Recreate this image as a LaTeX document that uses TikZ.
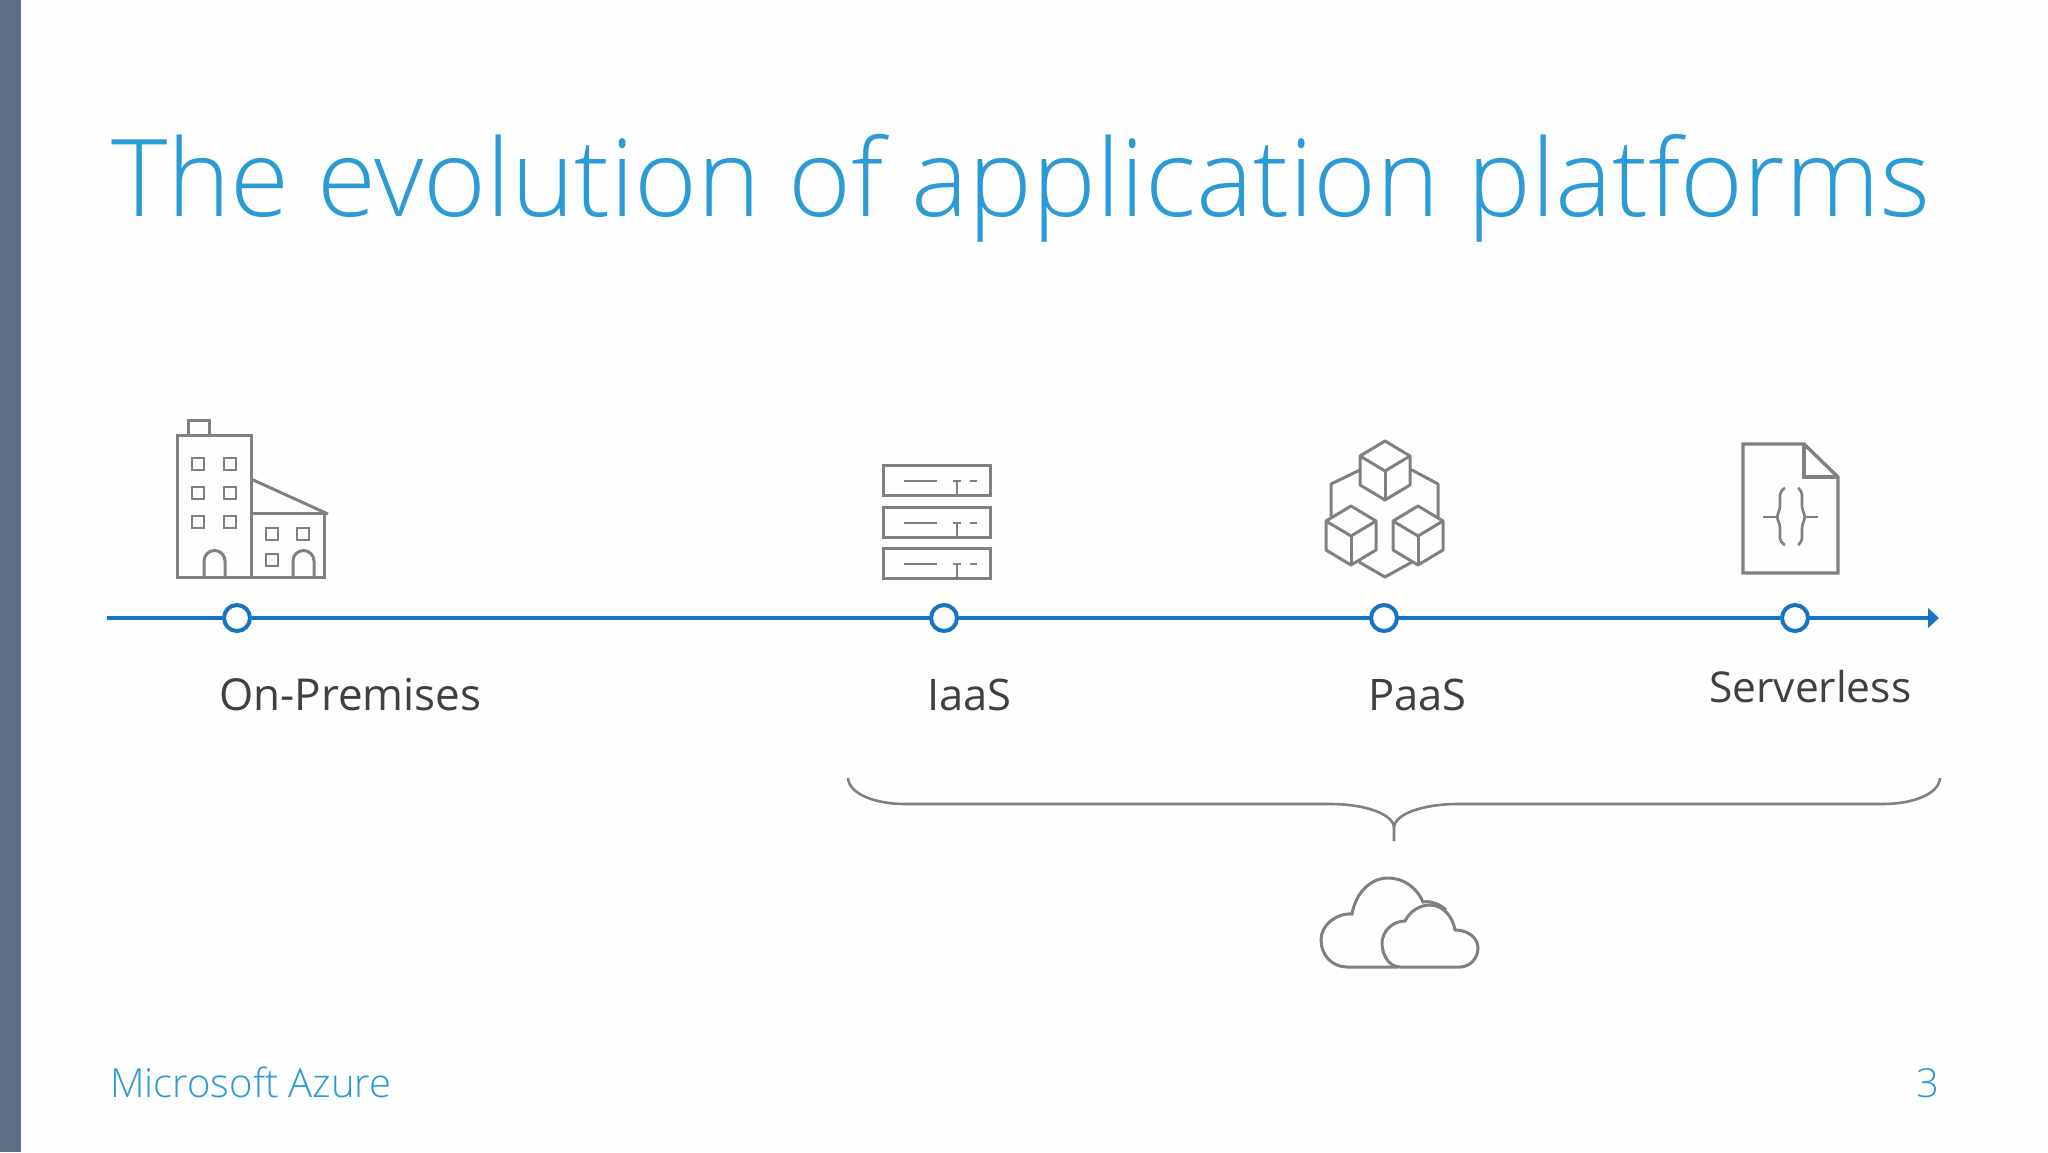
\documentclass[tikz,border=0pt]{standalone}
\usepackage{fontspec}
\setmainfont{Open Sans}
\newfontfamily\lightf{Open Sans Light}
\definecolor{titleblue}{HTML}{2A9BD5}
\definecolor{lineblue}{HTML}{1774C4}
\definecolor{icong}{HTML}{808080}
\definecolor{labelg}{HTML}{404040}
\definecolor{barc}{HTML}{5F6E85}
\tikzset{
  icon/.style={draw=icong,line width=3pt,line join=miter},
  thinicon/.style={draw=icong,line width=2.6pt},
  axis/.style={draw=lineblue,line width=4pt},
  stopdot/.style={circle,draw=lineblue,line width=4pt,fill=white,minimum size=26pt,inner sep=0pt},
  lab/.style={anchor=base west,inner sep=0pt,text=labelg,font=\fontsize{44}{50}\selectfont},
  titlet/.style={anchor=base west,inner sep=0pt,text=titleblue,font=\lightf\fontsize{107.4}{120}\selectfont},
  foot/.style={anchor=base west,inner sep=0pt,text=titleblue,font=\lightf\fontsize{40}{46}\selectfont},
}
\begin{document}
\begin{tikzpicture}[x=1pt,y=-1pt]
\useasboundingbox (0,0) rectangle (2048,1152);
\fill[white!99.5!black] (0,0) rectangle (2048,1152);
\fill[barc] (0,0) rectangle (21,1152);
\node[titlet] (title) at (111,216) {The evolution of application platforms};
\node[foot] (footer) at (110,1097) {Microsoft Azure};
\node[foot,anchor=base east] (pageno) at (1940,1097) {3};
% timeline
\coordinate (start) at (107,618);
\coordinate (tip) at (1939,618);
\node[stopdot] (s1) at (237,618) {};
\node[stopdot] (s2) at (944,618) {};
\node[stopdot] (s3) at (1384,618) {};
\node[stopdot] (s4) at (1795,618) {};
\draw[axis] (start) -- (s1);
\draw[axis] (s1) -- (s2);
\draw[axis] (s2) -- (s3);
\draw[axis] (s3) -- (s4);
\draw[axis] (s4) -- (1930,618);
\fill[lineblue] (tip) -- (1928,608) -- (1928,628) -- cycle;
\node[lab] (l1) at (219,710) {On-Premises};
\node[lab,font=\fontsize{43.5}{50}\selectfont] (l2) at (927,710) {IaaS};
\node[lab,font=\fontsize{43.5}{50}\selectfont] (l3) at (1368,710) {PaaS};
\node[lab,font=\fontsize{42.5}{50}\selectfont] (l4) at (1709,702) {Serverless};
% building
\draw[icon] (177,435) rectangle (251,577);
\draw[icon] (188,435) -- (188,420) -- (209,420) -- (209,435);
\draw[icon] (251,513) -- (324,513) -- (324,577) -- (251,577);
\draw[icon] (251,479) -- (328,514);
\foreach \x in {192,224} \foreach \y in {458,487,516} \draw[thinicon] (\x,\y) rectangle +(12,12);
\foreach \x/\y in {266/528,297/528,266/554} \draw[thinicon] (\x,\y) rectangle +(12,12);
\foreach \x in {204,293} \draw[icon] (\x,577) -- (\x,561) arc[start angle=180,end angle=0,x radius=10.5pt,y radius=10.5pt] -- (\x+21,577);
% servers
\foreach \y in {465,507,548} {
  \draw[icon] (883,\y) rectangle (990,\y+30);
  \draw[thinicon] (904,\y+16) -- (937,\y+16);
  \draw[thinicon] (953,\y+16) -- (961,\y+16);
  \draw[thinicon] (957,\y+16) -- (957,\y+30);
  \draw[thinicon] (970,\y+16) -- (977,\y+16);
}
% cubes
\foreach \cx/\cy in {1385/441,1351/506,1418/506} {
  \draw[icon,line join=round] (\cx,\cy) -- (\cx+25,\cy+15) -- (\cx+25,\cy+44) -- (\cx,\cy+59) -- (\cx-25,\cy+44) -- (\cx-25,\cy+15) -- cycle;
  \draw[icon,line join=round] (\cx-25,\cy+15) -- (\cx,\cy+30) -- (\cx+25,\cy+15);
  \draw[icon] (\cx,\cy+30) -- (\cx,\cy+59);
}
\draw[icon,line join=round] (1360,470) -- (1331,484) -- (1331,518);
\draw[icon,line join=round] (1410,469) -- (1438,484) -- (1438,518);
\draw[icon,line join=round] (1359,562) -- (1385,577) -- (1412,562);
% document
\draw[icon,line width=3.4pt] (1743,444) -- (1804,444) -- (1838,477) -- (1838,573) -- (1743,573) -- cycle;
\draw[icon,line width=3.4pt] (1804,444) -- (1804,477) -- (1838,477);
\draw[thinicon,rounded corners=4pt] (1785,488) -- (1780,491) -- (1780,510) -- (1776,517) -- (1780,524) -- (1780,542) -- (1785,545);
\draw[thinicon,rounded corners=4pt] (1798,488) -- (1802,491) -- (1802,510) -- (1806,517) -- (1802,524) -- (1802,542) -- (1798,545);
\draw[thinicon] (1763,517) -- (1776,517);
\draw[thinicon] (1806,517) -- (1818,517);
% bracket
\draw[thinicon] (848,778) .. controls (849,794) and (875,804) .. (905,804) -- (1330,804) .. controls (1365,804) and (1394,814) .. (1394,828) -- (1394,841);
\draw[thinicon] (1394,828) .. controls (1394,814) and (1423,804) .. (1458,804) -- (1883,804) .. controls (1913,804) and (1939,794) .. (1940,778);
% clouds
\draw[icon] (1398,967) -- (1347,967) .. controls (1332,967) and (1321,955) .. (1321,940) .. controls (1321,925) and (1336,913) .. (1352,914) .. controls (1356,892) and (1371,878) .. (1388,878) .. controls (1404,878) and (1417,888) .. (1423,902) .. controls (1427,901) and (1438,902) .. (1446,910);
\draw[icon] (1460,967) -- (1400,967) .. controls (1389,967) and (1382,955) .. (1382,943) .. controls (1382,932) and (1392,921) .. (1405,921) .. controls (1410,911) and (1420,905) .. (1430,905) .. controls (1443,905) and (1453,917) .. (1455,930) .. controls (1468,930) and (1478,938) .. (1478,948) .. controls (1478,958) and (1470,967) .. (1460,967);
\end{tikzpicture}
\end{document}
